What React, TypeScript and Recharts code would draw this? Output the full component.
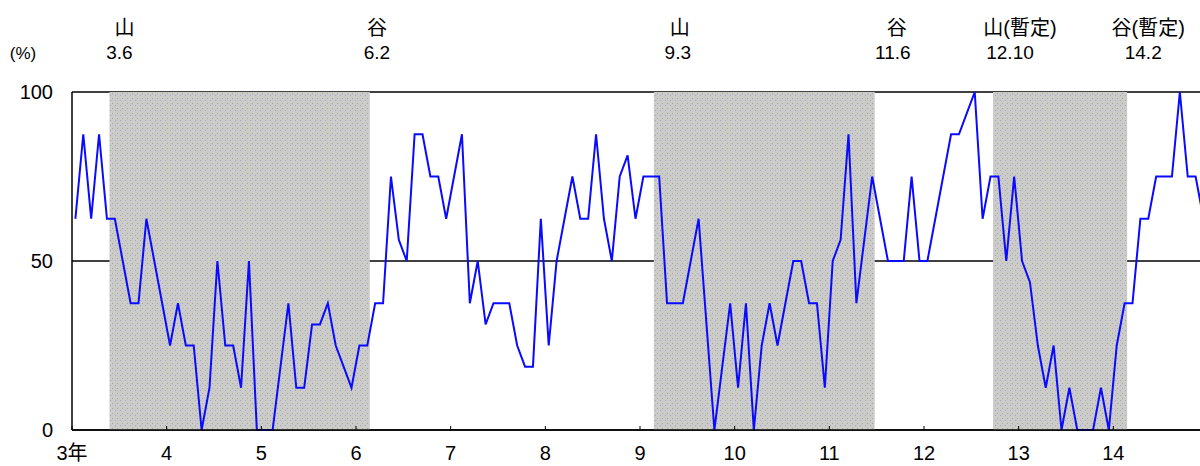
import React from 'react';
import {
  CartesianGrid,
  Line,
  LineChart,
  ReferenceArea,
  ReferenceLine,
  XAxis,
  YAxis,
} from 'recharts';

// monthly DI from Jan of year 3 to Dec of year 14
const diValues = [
  62.5, 87.5, 62.5, 87.5, 62.5, 62.5, 50, 37.5, 37.5, 62.5, 50, 37.5,
  25, 37.5, 25, 25, 0, 12.5, 50, 25, 25, 12.5, 50, 0,
  0, 0, 18.75, 37.5, 12.5, 12.5, 31.25, 31.25, 37.5, 25, 18.75, 12.5,
  25, 25, 37.5, 37.5, 75, 56.25, 50, 87.5, 87.5, 75, 75, 62.5,
  75, 87.5, 37.5, 50, 31.25, 37.5, 37.5, 37.5, 25, 18.75, 18.75, 62.5,
  25, 50, 62.5, 75, 62.5, 62.5, 87.5, 62.5, 50, 75, 81.25, 62.5,
  75, 75, 75, 37.5, 37.5, 37.5, 50, 62.5, 31.25, 0, 18.75, 37.5,
  12.5, 37.5, 0, 25, 37.5, 25, 37.5, 50, 50, 37.5, 37.5, 12.5,
  50, 56.25, 87.5, 37.5, 56.25, 75, 62.5, 50, 50, 50, 75, 50,
  50, 62.5, 75, 87.5, 87.5, 93.75, 100, 62.5, 75, 75, 50, 75,
  50, 43.75, 25, 12.5, 25, 0, 12.5, 0, 0, 0, 12.5, 0,
  25, 37.5, 37.5, 62.5, 62.5, 75, 75, 75, 100, 75, 75, 62.5,
];

const yearLabels = ['3年', '4', '5', '6', '7', '8', '9', '10', '11', '12', '13', '14'];
const yTicks = [0, 50, 100];

const turnNames = ['山', '谷', '山', '谷', '山(暫定)', '谷(暫定)'];
const turnDates = ['3.6', '6.2', '9.3', '11.6', '12.10', '14.2'];

// px nudges for the header texts [name, date]
const headerNudge = [
  [13, 8], [13, 13], [24, 22], [28, 24], [25, 15], [27, 22],
];

const monthIndex = (d: string) => {
  const [y, m] = d.split('.').map(Number);
  return (y - 3) * 12 + (m - 1);
};

const data = diValues.map((v, i) => ({ m: i + 0.43, v }));
const turnIdx = turnDates.map(monthIndex);
const recessions = [0, 2, 4].map((k) => [turnIdx[k] - 0.25, turnIdx[k + 1] + 0.75]);

const FONT = "'Liberation Sans Narrow', 'Liberation Sans', 'Noto Sans CJK JP', sans-serif";

const headerLabel = (k: number) => (props: any) => {
  const x = props.viewBox?.x ?? 0;
  return (
    <g>
      <text x={x + headerNudge[k][0]} y={35} textAnchor="middle" fontSize={20} fill="#000">
        {turnNames[k]}
      </text>
      <text x={x + headerNudge[k][1]} y={59} textAnchor="middle" fontSize={19} fill="#000">
        {turnDates[k]}
      </text>
    </g>
  );
};

export default function App() {
  return (
    <div
      style={{
        position: 'absolute',
        left: 0,
        top: 0,
        width: 1200,
        height: 466,
        overflow: 'hidden',
        background: '#fff',
        fontFamily: FONT,
      }}
    >
      <LineChart width={1208} height={466} data={data} margin={{ top: 92, right: 0, bottom: 0, left: 0 }}>
        <defs>
          <pattern id="stipple" width="5" height="5" patternUnits="userSpaceOnUse">
            <rect width="5" height="5" fill="#cbcbc8" />
            <rect x="0" y="0" width="1" height="1" fill="#a4a4cc" />
            <rect x="2" y="3" width="1" height="1" fill="#a6a6a6" />
          </pattern>
        </defs>
        <CartesianGrid vertical={false} stroke="#000" strokeWidth={1.5} />
        {recessions.map(([a, b], k) => (
          <ReferenceArea key={k} x1={a} x2={b} y1={0} y2={100} fill="url(#stipple)" fillOpacity={1} stroke="none" />
        ))}
        {turnIdx.map((idx, k) => (
          <ReferenceLine key={'t' + k} x={idx} stroke="none" label={headerLabel(k)} />
        ))}
        <XAxis
          type="number"
          dataKey="m"
          domain={[0, 144]}
          ticks={yearLabels.map((_, i) => i * 12)}
          tickFormatter={(t: number) => yearLabels[Math.round(t / 12)]}
          height={36}
          tickSize={-4}
          tickMargin={20}
          axisLine={{ stroke: '#000', strokeWidth: 1.5 }}
          tickLine={{ stroke: '#000' }}
          tick={{ fill: '#000', fontSize: 20 }}
          allowDataOverflow
        />
        <YAxis
          domain={[0, 100]}
          ticks={yTicks}
          width={72}
          tickSize={0}
          tickMargin={19}
          axisLine={{ stroke: '#000', strokeWidth: 1.5 }}
          tickLine={false}
          tick={{ fill: '#000', fontSize: 20 }}
          label={{
            content: () => (
              <text x={23} y={59} textAnchor="middle" fontSize={17} fill="#000">
                (%)
              </text>
            ),
          }}
        />
        <Line
          type="linear"
          dataKey="v"
          stroke="#0a0aff"
          strokeWidth={2}
          dot={false}
          isAnimationActive={false}
        />
      </LineChart>
    </div>
  );
}
